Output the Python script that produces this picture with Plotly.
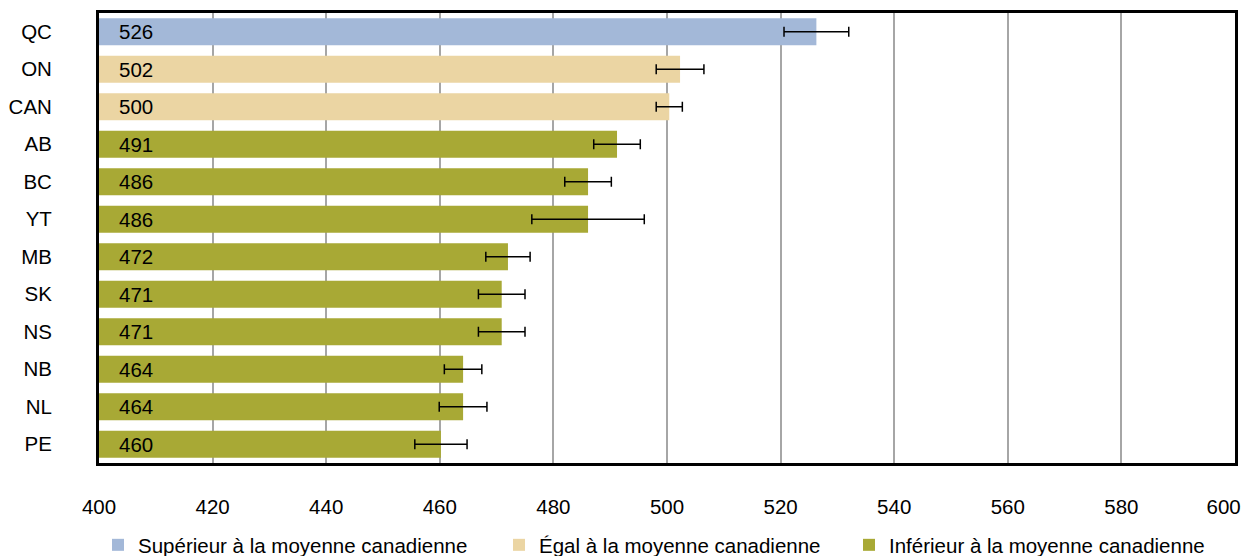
import plotly.graph_objects as go

provinces = ["QC", "ON", "CAN", "AB", "BC", "YT", "MB", "SK", "NS", "NB", "NL", "PE"]
scores = [526.3, 502.3, 500.4, 491.2, 486.1, 486.1, 472.0, 470.9, 470.9, 464.1, 464.1, 460.2]
labels = ["526", "502", "500", "491", "486", "486", "472", "471", "471", "464", "464", "460"]
errors = [5.7, 4.2, 2.3, 4.1, 4.1, 9.9, 3.9, 4.1, 4.1, 3.3, 4.2, 4.6]
groups = ["sup", "eg", "eg", "inf", "inf", "inf", "inf", "inf", "inf", "inf", "inf", "inf"]
x_ticks = [400, 420, 440, 460, 480, 500, 520, 540, 560, 580, 600]
x_tick_labels = ["400", "420", "440", "460", "480", "500", "520", "540", "560", "580", "600"]

group_names = {
    "sup": "Supérieur à la moyenne canadienne",
    "eg": "Égal à la moyenne canadienne",
    "inf": "Inférieur à la moyenne canadienne",
}
group_colors = {"sup": "#a3b8d8", "eg": "#ebd5a3", "inf": "#a8a935"}
legend_ids = {"sup": "legend", "eg": "legend2", "inf": "legend3"}

FS = 20.5
BASE = 400
W, H = 1241, 548
fig = go.Figure()
for g in ["sup", "eg", "inf"]:
    idx = [i for i, gg in enumerate(groups) if gg == g]
    fig.add_trace(go.Bar(
        orientation="h",
        y=[provinces[i] for i in idx],
        x=[scores[i] - BASE for i in idx],
        base=BASE,
        name=group_names[g],
        legend=legend_ids[g],
        marker=dict(color=group_colors[g], line=dict(width=0)),
        error_x=dict(type="data", array=[errors[i] for i in idx], color="black",
                     thickness=1.5, width=5),
        width=0.72,
    ))

for p, lab in zip(provinces, labels):
    fig.add_annotation(x=BASE, y=p, xref="x", yref="y", text=lab, showarrow=False,
                       xanchor="left", xshift=18, font=dict(size=FS, color="black"))

def leg(xpx):
    return dict(orientation="h", xref="container", yref="container",
                x=xpx / W, xanchor="left", y=11 / H, yanchor="middle",
                font=dict(size=FS), bgcolor="rgba(0,0,0,0)")

# last tick label padded with invisible glyphs so it stays inside the window
tick_text = x_tick_labels[:-1] + [
    x_tick_labels[-1] + "<span style='color:rgba(0,0,0,0)'>00</span>"]

fig.update_layout(
    width=W, height=H,
    margin=dict(l=91, r=14, t=5, b=93),
    paper_bgcolor="white", plot_bgcolor="white",
    font=dict(family="Liberation Sans, Arial, sans-serif", size=FS, color="black"),
    barmode="overlay",
    showlegend=True,
    legend=leg(90),
    legend2=leg(491),
    legend3=leg(841),
)
fig.update_xaxes(range=[400, 600], tickmode="array", tickvals=x_ticks, ticktext=tick_text,
                 showgrid=True, gridcolor="#a6a6a6",
                 gridwidth=1.5, showline=True, linecolor="black", linewidth=3, mirror=True,
                 ticks="", ticklabelstandoff=23, zeroline=False, automargin=False,
                 ticklabeloverflow="allow")
fig.update_yaxes(categoryorder="array", categoryarray=provinces[::-1], showgrid=False,
                 showline=True, linecolor="black", linewidth=3, mirror=True,
                 ticks="", ticklabelstandoff=40, automargin=False)

fig.write_html("out.html")
